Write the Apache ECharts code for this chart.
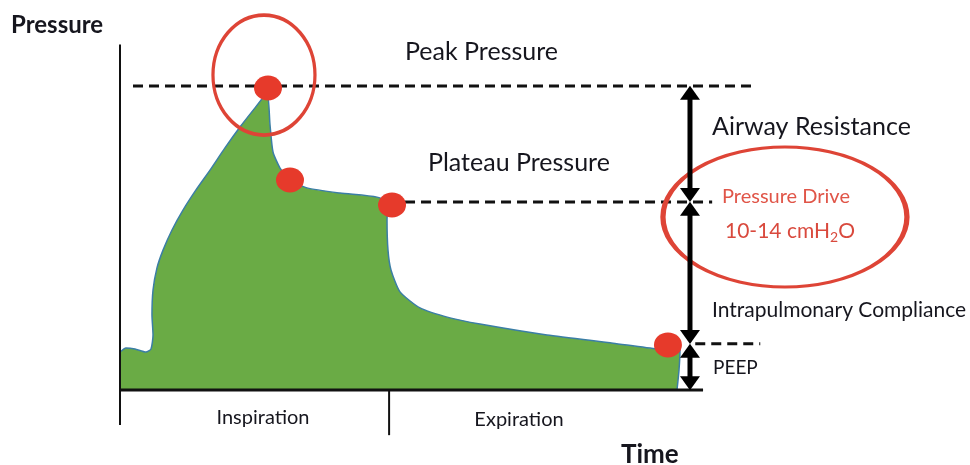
<!DOCTYPE html>
<html><head><meta charset="utf-8">
<script src="https://cdn.jsdelivr.net/npm/echarts@6/dist/echarts.min.js"></script>
<style>html,body{margin:0;padding:0;background:#fff}#c{width:970px;height:465px}</style>
</head><body><div id="c"></div>
<script>
// Pressure curve (arbitrary units: time 0-130, pressure 0-100)
const curveTime = [0, 0.92, 2.31, 4.0, 4.77, 5.08, 4.92, 5.08, 5.69, 6.62, 8.0, 9.69, 11.69, 13.85, 16.15, 18.46, 20.77, 22.62,
  23.08, 23.54, 24.62, 26.15, 28.77, 33.85, 39.54, 41.23, 41.08, 41.23, 41.69, 43.08, 46.15, 50.77, 55.38, 65.69, 75.85, 82.62, 86.15, 86.0, 85.69];
const curvePressure = [11.1, 12.3, 12.0, 11.1, 12.0, 16.1, 21.9, 29.2, 35.7, 40.9, 46.8, 52.6, 58.5, 64.3, 70.8, 76.9, 82.5, 86.8,
  77.5, 69.6, 64.9, 61.4, 59.1, 57.6, 56.4, 54.7, 49.7, 40.9, 35.1, 28.7, 24.0, 21.1, 19.3, 16.1, 13.7, 12.0, 11.7, 5.8, 0];
const keyTime = [22.77, 26.15, 41.85, 84.3];
const keyPressure = [88.3, 61.4, 54.1, 13.2];
const peakLevel = 88.9, plateauLevel = 55.0, peepLevel = 13.5;
const peakLineRange = [2.0, 97.7];
const plateauLineRange = [43.85, 91.1];
const peepLineRange = [88.5, 98.5];
const arrowTime = 87.69;
const phaseBoundary = 41.4;
const timeEnd = 89.7;
const axisTop = 101, axisBottom = -10.2, tickBottom = -13.2;
const phaseLabels = ['Inspiration', 'Expiration'];
const peakCircle = [22.15, 92.1];
const driveCircle = [102.3, 50.6];

const chart = echarts.init(document.getElementById('c'));
const FONT = 'Lato, "Open Sans", sans-serif';
const ink = '#16161e';
const red = '#de4436';
const arrowGap = 2.0;

function arrowSeries(top, bottom) {
  return {
    type: 'line', silent: true, z: 6, clip: false,
    data: [
      { value: [arrowTime, top - arrowGap], symbolRotate: 0 },
      { value: [arrowTime, bottom + arrowGap], symbolRotate: 180 }
    ],
    symbol: 'triangle', symbolSize: [20, 14], showSymbol: true,
    itemStyle: { color: '#000', opacity: 1 },
    lineStyle: { color: '#000', width: 5 }
  };
}
function plainLine(pts, width, dash, z) {
  return {
    type: 'line', silent: true, z: z || 3, clip: false, symbol: 'none',
    data: pts,
    lineStyle: { color: '#111', width: width, type: dash || 'solid' }
  };
}

const option = {
  animation: false,
  backgroundColor: '#fff',
  grid: { left: 120, width: 845, top: 44.6, height: 393.3 },
  xAxis: { type: 'value', min: 0, max: 130, show: false },
  yAxis: { type: 'value', min: -14, max: 101, show: false },
  series: [
    {
      type: 'line', silent: true, z: 2,
      data: curveTime.map((t, i) => [t, curvePressure[i]]),
      smooth: 0.2, symbol: 'none',
      lineStyle: { color: '#3b7ea5', width: 1.5 },
      areaStyle: { color: '#6aab45', opacity: 1 }
    },
    plainLine([[0, axisBottom], [0, axisTop]], 2),
    plainLine([[0, 0], [timeEnd, 0]], 3),
    plainLine([[phaseBoundary, 0], [phaseBoundary, tickBottom]], 2),
    plainLine([[peakLineRange[0], peakLevel], [peakLineRange[1], peakLevel]], 3, [10, 6]),
    plainLine([[plateauLineRange[0], plateauLevel], [plateauLineRange[1], plateauLevel]], 3, [10, 6]),
    plainLine([[peepLineRange[0], peepLevel], [peepLineRange[1], peepLevel]], 3, [10, 6]),
    {
      type: 'scatter', silent: true, z: 4, clip: false,
      data: [peakCircle],
      symbol: 'circle', symbolSize: [102, 120],
      itemStyle: { color: 'rgba(0,0,0,0)', borderColor: red, borderWidth: 3.5, opacity: 1 }
    },
    {
      type: 'scatter', silent: true, z: 4, clip: false,
      data: [driveCircle],
      symbol: 'circle', symbolSize: [244, 140],
      itemStyle: { color: 'rgba(0,0,0,0)', borderColor: red, borderWidth: 4, opacity: 1 }
    },
    {
      type: 'scatter', silent: true, z: 5, clip: false,
      data: keyTime.map((t, i) => [t, keyPressure[i]]),
      symbol: 'circle', symbolSize: [28, 25],
      itemStyle: { color: '#e63a2b', opacity: 1 }
    },
    arrowSeries(peakLevel, plateauLevel),
    arrowSeries(plateauLevel, peepLevel),
    arrowSeries(peepLevel, 0)
  ],
  graphic: [
    { type: 'text', x: 11, y: 25, style: { text: 'Pressure', font: 'bold 24px ' + FONT, fill: ink, verticalAlign: 'middle' } },
    { type: 'text', x: 621, y: 455, style: { text: 'Time', font: 'bold 26px ' + FONT, fill: ink, verticalAlign: 'middle' } },
    { type: 'text', x: 405, y: 52, style: { text: 'Peak Pressure', font: '25px ' + FONT, fill: ink, verticalAlign: 'middle' } },
    { type: 'text', x: 428, y: 163, style: { text: 'Plateau Pressure', font: '25px ' + FONT, fill: ink, verticalAlign: 'middle' } },
    { type: 'text', x: 712, y: 127, style: { text: 'Airway Resistance', font: '25px ' + FONT, fill: ink, verticalAlign: 'middle' } },
    { type: 'text', x: 722, y: 197, style: { text: 'Pressure Drive', font: '20px ' + FONT, fill: '#e05548', verticalAlign: 'middle' } },
    { type: 'text', x: 725, y: 231, style: {
        text: '10-14 cmH{sub|2}O', font: '21px ' + FONT, fill: '#d9493d', verticalAlign: 'middle', lineHeight: 26,
        rich: { sub: { fontSize: 14, fontFamily: 'Lato', fill: '#d9493d', verticalAlign: 'bottom', lineHeight: 15 } }
      } },
    { type: 'text', x: 712, y: 310, style: { text: 'Intrapulmonary Compliance', font: '21px ' + FONT, fill: ink, verticalAlign: 'middle' } },
    { type: 'text', x: 713, y: 368, style: { text: 'PEEP', font: '19px ' + FONT, fill: ink, verticalAlign: 'middle' } },
    { type: 'text', x: 263, y: 418, style: { text: phaseLabels[0], font: '20px ' + FONT, fill: ink, align: 'center', verticalAlign: 'middle' } },
    { type: 'text', x: 519, y: 420, style: { text: phaseLabels[1], font: '20px ' + FONT, fill: ink, align: 'center', verticalAlign: 'middle' } }
  ]
};
chart.setOption(option);
</script>
</body></html>
